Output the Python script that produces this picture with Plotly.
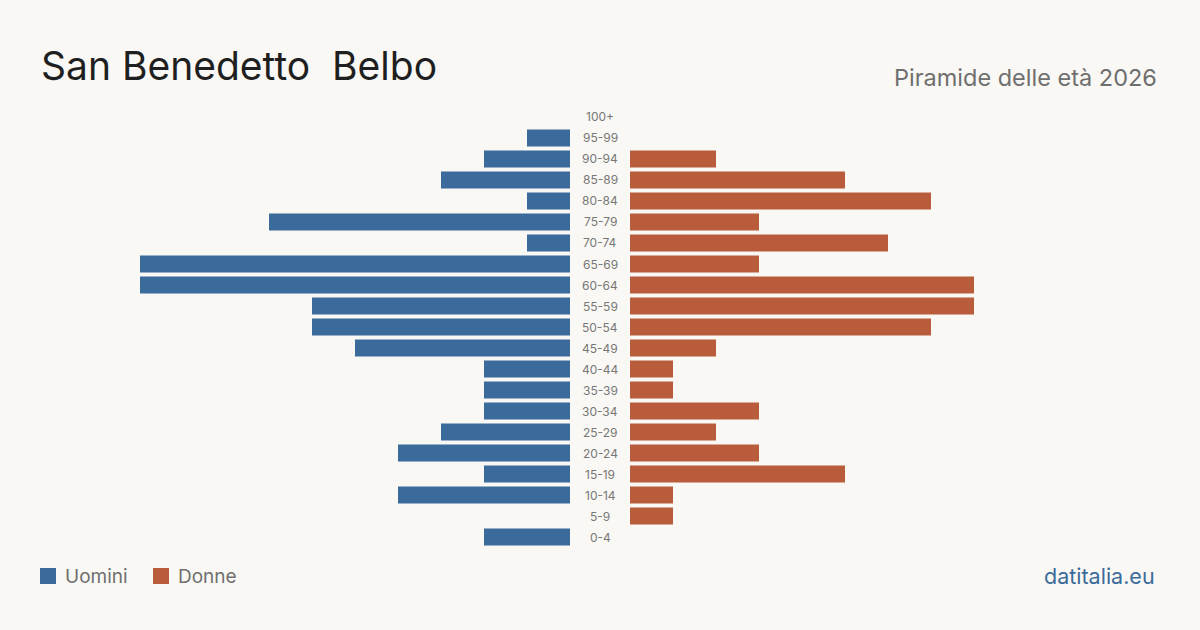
import plotly.graph_objects as go

age_groups = ["0-4", "5-9", "10-14", "15-19", "20-24", "25-29", "30-34", "35-39",
              "40-44", "45-49", "50-54", "55-59", "60-64", "65-69", "70-74", "75-79",
              "80-84", "85-89", "90-94", "95-99", "100+"]
males = [2, 0, 4, 2, 4, 3, 2, 2, 2, 5, 6, 6, 10, 10, 1, 7, 1, 3, 2, 1, 0]
females = [0, 1, 1, 5, 3, 2, 3, 1, 1, 2, 7, 8, 8, 3, 6, 3, 7, 5, 2, 0, 0]

BLUE = "#3b6b9b"
ORANGE = "#b95c3c"
BG = "#f9f8f4"
W, H = 1200, 630

fig = go.Figure()
fig.add_trace(go.Bar(y=age_groups, x=males, orientation="h", marker_color=BLUE,
                     marker_line_width=0,
                     xaxis="x", yaxis="y", name="Uomini", hoverinfo="x+y"))
fig.add_trace(go.Bar(y=age_groups, x=females, orientation="h", marker_color=ORANGE,
                     marker_line_width=0,
                     xaxis="x2", yaxis="y", name="Donne", hoverinfo="x+y"))

xmax = 10
top_px, bot_px = 106.5, 547.5
axis_off = dict(visible=False, showgrid=False, zeroline=False, showline=False, fixedrange=True)
fig.update_layout(
    width=W, height=H,
    margin=dict(l=0, r=0, t=0, b=0),
    paper_bgcolor=BG, plot_bgcolor=BG,
    showlegend=False, bargap=0.19,
    font=dict(family="Inter, sans-serif"),
    xaxis=dict(domain=[140 / W, 570 / W], range=[xmax, 0], **axis_off),
    xaxis2=dict(domain=[630 / W, 1060 / W], range=[0, xmax], anchor="y", **axis_off),
    yaxis=dict(domain=[(H - bot_px) / H, (H - top_px) / H], type="category",
               categoryorder="array", categoryarray=age_groups,
               range=[-0.5, len(age_groups) - 0.5], **axis_off),
)

annotations = []
for a in age_groups:
    annotations.append(dict(x=0.5, xref="paper", y=a, yref="y", text=a, showarrow=False,
                            font=dict(size=12, color="#777777"), xanchor="center", yanchor="middle"))

annotations += [
    dict(x=39 / W, y=1 - 66 / H, xref="paper", yref="paper", text="San Benedetto  Belbo",
         showarrow=False, xanchor="left", yanchor="middle",
         font=dict(size=39, color="#1f1f1f")),
    dict(x=1159 / W, y=1 - 77 / H, xref="paper", yref="paper", text="Piramide delle età 2026",
         showarrow=False, xanchor="right", yanchor="middle",
         font=dict(size=23.5, color="#6f6f6f")),
    dict(x=63 / W, y=1 - 576 / H, xref="paper", yref="paper", text="Uomini",
         showarrow=False, xanchor="left", yanchor="middle",
         font=dict(size=19, color="#6f6f6f")),
    dict(x=176 / W, y=1 - 576 / H, xref="paper", yref="paper", text="Donne",
         showarrow=False, xanchor="left", yanchor="middle",
         font=dict(size=19, color="#6f6f6f")),
    dict(x=1157 / W, y=1 - 576 / H, xref="paper", yref="paper", text="datitalia.eu",
         showarrow=False, xanchor="right", yanchor="middle",
         font=dict(size=21.5, color=BLUE)),
]

shapes = [
    dict(type="rect", xref="paper", yref="paper", x0=40 / W, x1=56 / W,
         y0=1 - 584 / H, y1=1 - 568 / H, fillcolor=BLUE, line=dict(width=0)),
    dict(type="rect", xref="paper", yref="paper", x0=153 / W, x1=169 / W,
         y0=1 - 584 / H, y1=1 - 568 / H, fillcolor=ORANGE, line=dict(width=0)),
]

fig.update_layout(annotations=annotations, shapes=shapes)
fig.write_html("out.html", config={"displayModeBar": False})
